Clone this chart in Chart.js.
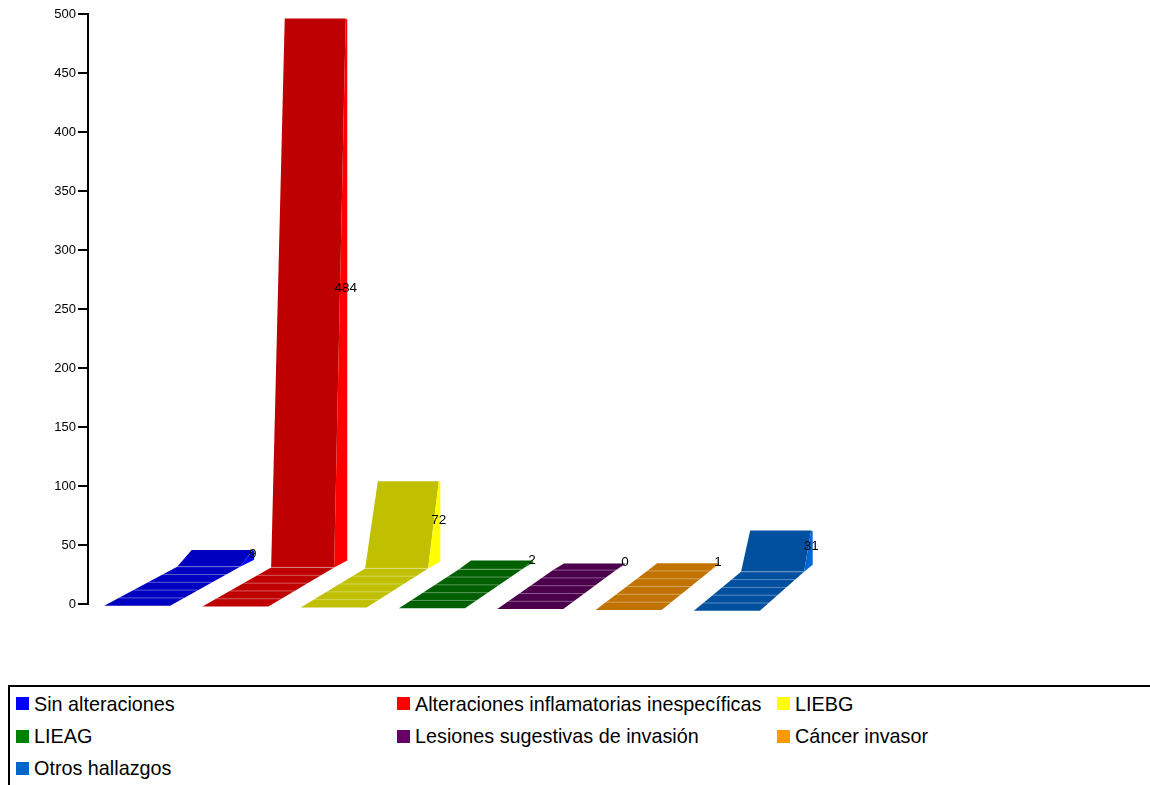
<!DOCTYPE html>
<html>
<head>
<meta charset="utf-8">
<script src="https://cdn.jsdelivr.net/npm/chart.js@4.4.0/dist/chart.umd.min.js"></script>
<style>
html,body{margin:0;padding:0;background:#fff;width:1150px;height:785px;overflow:hidden;position:relative;font-family:"Liberation Sans",Arial,sans-serif;}
#c{position:absolute;left:0;top:0;}
#legendBox{position:absolute;left:8px;top:685px;width:1200px;height:200px;border:2px solid #000;box-sizing:border-box;}
.sw{position:absolute;width:13px;height:13px;}
.lt{position:absolute;font-size:19.8px;line-height:20px;white-space:nowrap;color:#000;}
</style>
</head>
<body>
<canvas id="c" width="1150" height="680"></canvas>
<div id="legendBox"></div>
<script>
const categories = ['Sin alteraciones','Alteraciones inflamatorias inespecíficas','LIEBG','LIEAG','Lesiones sugestivas de invasión','Cáncer invasor','Otros hallazgos'];
const values = [9, 484, 72, 2, 0, 1, 31];
const yTicks = [0, 50, 100, 150, 200, 250, 300, 350, 400, 450, 500];
const legendColors = ['#0000FF','#FF0000','#FFFF00','#008000','#660066','#FF9900','#0066CC'];
const faceColors = ['#0000C0','#BF0000','#C0C000','#006000','#4C004C','#C07300','#00509F'];
const sideColors = ['#0000FF','#FF0000','#FFFF00','#008000','#660066','#FF9900','#0066D6'];

// legend (HTML)
const colLeft = [16, 397, 777];
const rowTextTop = [693.5, 726, 758.2];
const rowSwTop = [697.3, 730, 762.3];
categories.forEach((name, i) => {
  const r = Math.floor(i / 3), c = i % 3;
  const sw = document.createElement('div');
  sw.className = 'sw';
  sw.style.left = colLeft[c] + 'px';
  sw.style.top = rowSwTop[r] + 'px';
  sw.style.background = legendColors[i];
  document.body.appendChild(sw);
  const t = document.createElement('div');
  t.className = 'lt';
  t.style.left = (colLeft[c] + 18) + 'px';
  t.style.top = rowTextTop[r] + 'px';
  t.textContent = name;
  document.body.appendChild(t);
});

function poly(ctx, pts, fill) {
  ctx.beginPath();
  ctx.moveTo(pts[0][0], pts[0][1]);
  for (let k = 1; k < pts.length; k++) ctx.lineTo(pts[k][0], pts[k][1]);
  ctx.closePath();
  ctx.fillStyle = fill;
  ctx.fill();
}

const bar3d = {
  id: 'bar3d',
  afterDatasetsDraw(chart) {
    const ctx = chart.ctx;
    const meta = chart.getDatasetMeta(0);
    const ys = chart.scales.y;
    const base = ys.getPixelForValue(0);
    ctx.save();
    meta.data.forEach((el, i) => {
      const cx = el.x;
      const p = base - el.y;
      const yf = base + 1.7 + 0.85 * i;
      const yb = yf - 39;
      const fl = cx - 33, fr = cx + 33;
      const s = 73 - 4.3 * i;
      const bl = fl + s, br = bl + 63;
      const h = 6.5 + 0.95 * p;
      const yt = yb - h;
      const lean = 14.5 - 0.9 * i;
      const tl = bl + lean, tr = tl + 61;
      // floor
      poly(ctx, [[fl, yf], [fr, yf], [br, yb], [bl, yb]], faceColors[i]);
      // face
      poly(ctx, [[bl, yb], [br, yb], [tr, yt], [tl, yt]], faceColors[i]);
      // side
      poly(ctx, [[tr, yt], [br, yb], [tr + 1.5, Math.max(yt, yb - 7)], [tr + 1.5, yt + 1]], sideColors[i]);
      // floor stripes
      ctx.strokeStyle = 'rgba(255,255,255,0.35)';
      ctx.lineWidth = 1;
      for (let k = 0; k < 5; k++) {
        const t = k / 5;
        const y = yb + t * (yf - yb);
        const xl = bl + t * (fl - bl), xr = br + t * (fr - br);
        ctx.beginPath();
        ctx.moveTo(xl, y);
        ctx.lineTo(xr, y);
        ctx.stroke();
      }
      // label
      ctx.fillStyle = '#000';
      ctx.font = '13.5px "Liberation Sans", Arial, sans-serif';
      ctx.textAlign = 'center';
      ctx.textBaseline = 'middle';
      ctx.fillText(String(values[i]), tr, (yt + yb) / 2 - 4.5);
    });
    ctx.restore();
  }
};

new Chart(document.getElementById('c'), {
  type: 'bar',
  data: {
    labels: categories,
    datasets: [{
      data: values,
      backgroundColor: 'rgba(0,0,0,0)',
      borderWidth: 0
    }]
  },
  options: {
    responsive: false,
    maintainAspectRatio: false,
    animation: false,
    layout: { padding: { top: 14, bottom: 76, left: 0, right: 374 } },
    plugins: { legend: { display: false }, tooltip: { enabled: false } },
    scales: {
      x: { display: false },
      y: {
        min: 0, max: 500,
        afterBuildTicks(scale) { scale.ticks = yTicks.map(v => ({ value: v })); },
        afterFit(scale) { scale.width = 88; },
        ticks: { color: '#000', padding: 2, font: { size: 13, family: '"Liberation Sans", Arial, sans-serif' } },
        grid: { drawOnChartArea: false, color: '#000', lineWidth: 2, tickLength: 10 },
        border: { display: true, color: '#000', width: 2 }
      }
    }
  },
  plugins: [bar3d]
});
</script>
</body>
</html>
